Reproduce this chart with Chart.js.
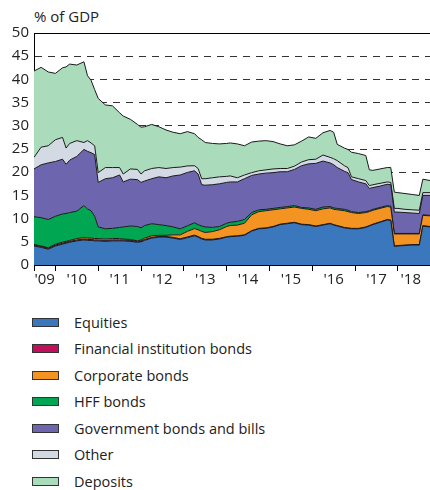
<!DOCTYPE html>
<html>
<head>
<meta charset="utf-8">
<script src="https://cdn.jsdelivr.net/npm/chart.js@4.4.1/dist/chart.umd.min.js"></script>
<style>
	html, body { margin: 0; padding: 0; background: #fff; overflow: hidden; }
	body { width: 430px; height: 490px; position: relative; font-family: "Open Sans", Lato, sans-serif; color: #222; }
	#unit { position: absolute; left: 34px; top: 6px; font-size: 15px; }
	#graph { position: absolute; left: 0; top: 0; }
	#legend { position: absolute; left: 32px; top: 309px; }
	.item { display: flex; align-items: center; height: 26.5px; font-size: 14.5px; }
	.box { width: 25px; height: 7px; border: 1px solid #333; margin-right: 15px; }
</style>
</head>
<body>
<div id="unit">% of GDP</div>
<canvas id="graph" width="430" height="292"></canvas>
<div id="legend"></div>
<script>
const months = ['2009-07', '2009-09', '2009-11', '2010-01', '2010-03', '2010-04', '2010-05', '2010-07', '2010-09', '2010-10',
	'2010-11', '2010-12', '2011-01', '2011-03', '2011-05', '2011-07', '2011-08', '2011-10', '2011-12', '2012-01',
	'2012-02', '2012-04', '2012-06', '2012-08', '2012-10', '2012-12', '2013-02', '2013-04', '2013-05', '2013-06',
	'2013-07', '2013-09', '2013-11', '2014-01', '2014-02', '2014-04', '2014-06', '2014-08', '2014-10', '2014-12',
	'2015-02', '2015-04', '2015-06', '2015-08', '2015-10', '2015-12', '2016-02', '2016-04', '2016-06', '2016-07',
	'2016-08', '2016-10', '2016-11', '2016-12', '2017-02', '2017-04', '2017-05', '2017-06', '2017-08', '2017-10',
	'2017-11', '2017-12', '2018-01', '2018-03', '2018-05', '2018-07', '2018-08', '2018-10'];

const equities = [4.1, 3.8, 3.4, 4.1, 4.5, 4.7, 4.9, 5.2, 5.4, 5.3,
	5.3, 5.2, 5.2, 5.1, 5.2, 5.2, 5.2, 5.1, 4.9, 5.0,
	5.3, 5.8, 6.0, 6.0, 5.8, 5.5, 5.9, 6.3, 6.0, 5.6,
	5.4, 5.4, 5.6, 6.0, 6.1, 6.2, 6.4, 7.3, 7.8, 7.9,
	8.2, 8.7, 8.9, 9.1, 8.7, 8.6, 8.3, 8.6, 8.9, 8.6,
	8.4, 8.0, 7.9, 7.8, 7.8, 8.1, 8.4, 8.7, 9.2, 9.7,
	9.6, 4.0, 4.1, 4.2, 4.3, 4.3, 8.4, 8.2];
const finInstBonds = [0.2, 0.2, 0.2, 0.2, 0.2, 0.2, 0.2, 0.2, 0.2, 0.2,
	0.2, 0.2, 0.2, 0.2, 0.2, 0.2, 0.2, 0.2, 0.2, 0.2,
	0.2, 0.15, 0.15, 0.15, 0.15, 0.15, 0.15, 0.15, 0.15, 0.15,
	0.15, 0.15, 0.15, 0.1, 0.1, 0.1, 0.1, 0.1, 0.1, 0.1,
	0.1, 0.1, 0.1, 0.1, 0.1, 0.1, 0.1, 0.1, 0.1, 0.1,
	0.1, 0.1, 0.1, 0.1, 0.1, 0.1, 0.1, 0.1, 0.1, 0.1,
	0.1, 0.1, 0.1, 0.1, 0.1, 0.1, 0.1, 0.1];
const corporateBonds = [0.1, 0.1, 0.1, 0.2, 0.2, 0.2, 0.2, 0.3, 0.3, 0.3,
	0.3, 0.3, 0.3, 0.3, 0.3, 0.3, 0.2, 0.2, 0.1, 0.2,
	0.3, 0.35, 0.25, 0.25, 0.55, 0.85, 1.2, 1.4, 1.45, 1.5,
	1.45, 1.65, 1.85, 2.2, 2.3, 2.3, 2.5, 3.4, 3.6, 3.7,
	3.6, 3.3, 3.3, 3.3, 3.4, 3.3, 3.3, 3.4, 3.3, 3.3,
	3.4, 3.6, 3.5, 3.4, 3.2, 3.1, 3.0, 3.0, 2.9, 2.8,
	2.8, 2.6, 2.5, 2.4, 2.3, 2.3, 2.2, 2.3];
const hffBonds = [6.0, 6.1, 6.1, 6.0, 6.1, 6.0, 6.0, 5.9, 6.9, 6.3,
	5.9, 4.8, 2.5, 2.2, 2.2, 2.4, 2.6, 2.9, 3.1, 2.6,
	2.7, 2.6, 2.3, 2.1, 1.7, 1.3, 1.2, 1.25, 1.1, 1.15,
	1.2, 0.9, 0.7, 0.7, 0.7, 0.8, 0.8, 0.5, 0.4, 0.3,
	0.3, 0.3, 0.3, 0.3, 0.2, 0.3, 0.3, 0.4, 0.3, 0.3,
	0.3, 0.3, 0.3, 0.2, 0.2, 0.2, 0.2, 0.2, 0.2, 0.2,
	0.2, 0.1, 0.1, 0.1, 0.1, 0.1, 0.1, 0.1];
const govBonds = [10.3, 11.4, 12.2, 11.8, 11.8, 10.6, 11.3, 11.8, 12.1, 12.4,
	12.5, 13.3, 9.6, 10.8, 10.9, 11.3, 9.7, 10.1, 10.1, 9.8,
	9.6, 9.7, 10.3, 10.3, 11.0, 11.6, 11.5, 11.2, 10.9, 8.9,
	9.0, 9.2, 9.2, 8.8, 8.7, 8.5, 8.8, 8.0, 7.7, 7.8,
	7.7, 7.7, 7.5, 7.8, 9.0, 9.5, 9.9, 9.9, 9.4, 9.3,
	8.8, 8.2, 8.1, 6.9, 6.6, 6.0, 4.8, 4.7, 4.6, 4.6,
	4.6, 4.6, 4.6, 4.5, 4.4, 4.3, 4.2, 4.3];
const other = [2.5, 3.8, 3.7, 4.7, 4.7, 3.5, 3.6, 3.4, 1.5, 2.3,
	2.1, 1.9, 2.1, 2.4, 2.2, 1.6, 1.7, 2.2, 2.2, 1.8,
	2.2, 2.2, 2.0, 2.0, 1.8, 1.7, 1.4, 1.1, 1.2, 1.3,
	1.4, 1.5, 1.5, 1.3, 1.3, 0.9, 0.8, 0.6, 0.7, 0.7,
	0.8, 0.7, 0.7, 0.7, 0.8, 0.9, 0.9, 1.3, 1.2, 1.3,
	1.5, 1.2, 1.1, 0.6, 0.7, 0.7, 0.6, 0.6, 0.6, 0.5,
	0.5, 0.8, 0.8, 0.7, 0.7, 0.7, 0.6, 0.6];
const deposits = [18.6, 17.2, 15.9, 14.3, 15.0, 17.5, 17.1, 16.3, 17.4, 14.0,
	13.5, 12.1, 16.0, 13.5, 13.3, 11.8, 12.5, 10.7, 9.7, 10.1,
	9.5, 9.5, 8.8, 8.3, 7.6, 7.2, 7.4, 6.9, 6.7, 8.4,
	7.8, 7.4, 7.1, 7.1, 7.1, 7.3, 6.3, 6.6, 6.4, 6.3,
	5.9, 5.3, 4.9, 4.6, 4.5, 4.9, 4.5, 4.8, 5.8, 5.7,
	3.5, 3.8, 3.9, 5.3, 5.4, 5.4, 3.4, 3.1, 3.1, 3.1,
	3.2, 3.5, 3.4, 3.4, 3.3, 3.2, 2.9, 2.6];

const seriesNames = ['Equities', 'Financial institution bonds', 'Corporate bonds', 'HFF bonds', 'Government bonds and bills', 'Other', 'Deposits'];
const seriesColors = ['#3a77bd', '#c0105c', '#f39321', '#00a651', '#6d66ae', '#d3dae3', '#aadbbb'];

const yearTicks = [2009.5, 2010, 2011, 2012, 2013, 2014, 2015, 2016, 2017, 2018];
const yearLabelPos = [2009.75, 2010.5, 2011.5, 2012.5, 2013.5, 2014.5, 2015.5, 2016.5, 2017.5, 2018.3];
const yearLabels = ["'09", "'10", "'11", "'12", "'13", "'14", "'15", "'16", "'17", "'18"];

const toYear = (s) => {
	const [y, m] = s.split('-').map(Number);
	return y + (m - 1) / 12;
};

const allSeries = [equities, finInstBonds, corporateBonds, hffBonds, govBonds, other, deposits];

const datasets = allSeries.map((values, i) => ({
	label: seriesNames[i],
	data: values.map((v, j) => ({ x: toYear(months[j]), y: v })),
	backgroundColor: seriesColors[i],
	borderColor: '#1a1a1a',
	borderWidth: 1,
	pointRadius: 0,
	tension: 0,
	fill: i === 0 ? 'origin' : '-1',
}));

const font = { family: '"Open Sans", Lato, sans-serif', size: 15 };

const ctx = document.getElementById('graph');
const chart = new Chart(ctx, {
	type: 'line',
	data: { datasets: datasets },
	options: {
		responsive: false,
		animation: false,
		layout: { padding: { top: 33, right: 0, left: 0, bottom: 0 } },
		scales: {
			x: {
				type: 'linear',
				min: 2009.5,
				max: 2018.75,
				afterBuildTicks: (scale) => {
					scale.ticks = [...yearTicks, ...yearLabelPos].sort((a, b) => a - b).map(v => ({ value: v }));
				},
				afterFit: (scale) => { scale.height = 27; },
				ticks: {
					autoSkip: false,
					maxRotation: 0,
					padding: 0,
					color: '#222',
					font: font,
					callback: (value) => {
						const i = yearLabelPos.indexOf(value);
						return i >= 0 ? yearLabels[i] : '';
					}
				},
				grid: {
					drawOnChartArea: false,
					drawTicks: true,
					tickLength: 6,
					tickColor: (c) => yearTicks.includes(c.tick.value) ? '#000' : 'rgba(0,0,0,0)',
				},
				border: { display: true, color: '#000', width: 1 }
			},
			xTop: {
				type: 'linear',
				position: 'top',
				min: 2009.5,
				max: 2018.75,
				ticks: { display: false },
				grid: { display: false, drawTicks: false },
				border: { display: true, color: '#000', width: 1 }
			},
			y: {
				stacked: true,
				min: 0,
				max: 50,
				afterFit: (scale) => { scale.width = 34; },
				ticks: { stepSize: 5, padding: 5, color: '#222', font: font },
				grid: {
					drawTicks: false,
					color: (c) => (c.tick.value === 0 || c.tick.value === 50) ? 'rgba(0,0,0,0)' : '#333',
					lineWidth: 1,
				},
				border: { display: true, color: '#000', width: 1, dash: [7, 6] }
			}
		},
		plugins: {
			legend: { display: false },
			tooltip: { enabled: false }
		}
	}
});

// legend, one row per series
const legendEl = document.getElementById('legend');
seriesNames.forEach((name, i) => {
	const row = document.createElement('div');
	row.className = 'item';
	row.innerHTML = `<span class="box" style="background:${seriesColors[i]}"></span><span>${name}</span>`;
	legendEl.appendChild(row);
});
</script>
</body>
</html>
